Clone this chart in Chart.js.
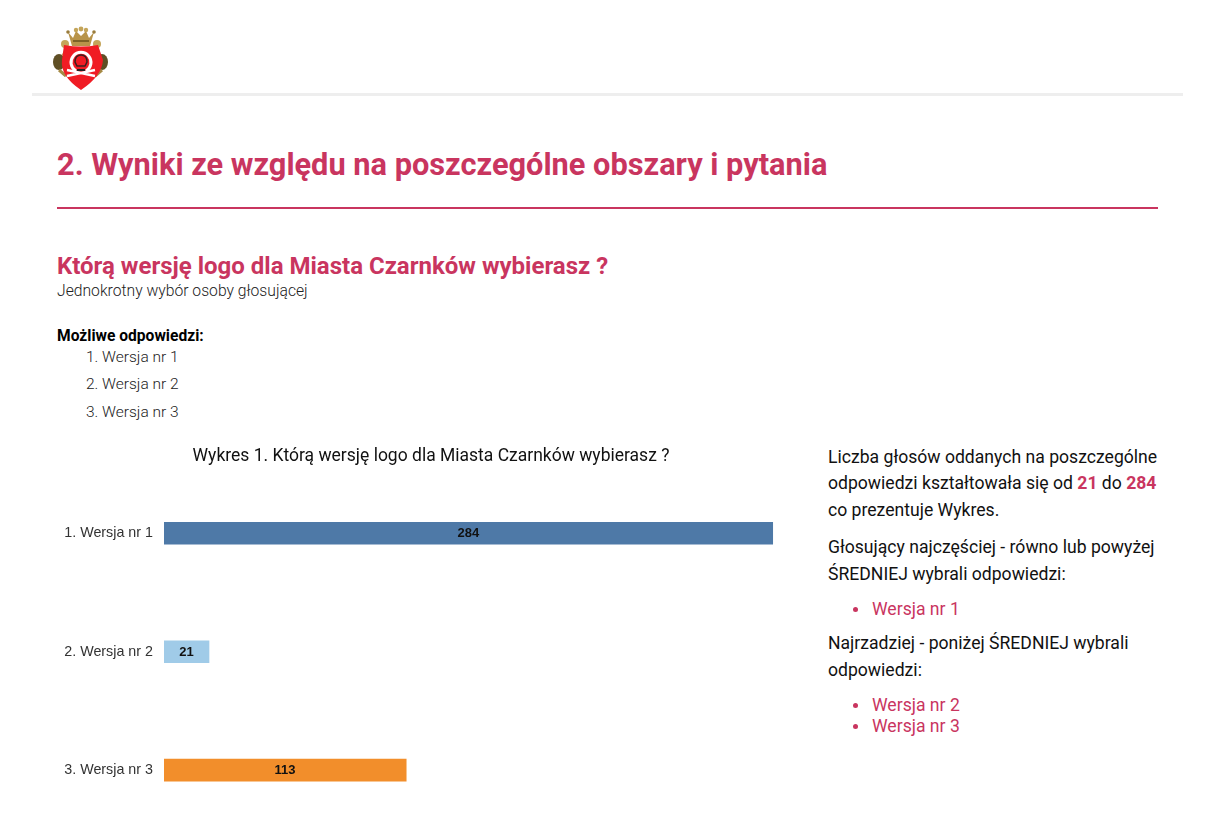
<!DOCTYPE html>
<html lang="pl">
<head>
<meta charset="utf-8">
<title>Wykres 1</title>
<script src="https://cdn.jsdelivr.net/npm/chart.js@4"></script>
<style>
    html, body { margin: 0; padding: 0; background: #fff; }
    body { position: relative; width: 1220px; height: 820px; overflow: hidden; font-family: Roboto, sans-serif; color: #111; }
    .t { position: absolute; white-space: nowrap; }
    .pink { color: #c9355f; }
    .rule { position: absolute; }
    #chartBox { position: absolute; left: 40px; top: 440px; width: 782px; height: 409px; }
    .side { font-size: 17.6px; line-height: 27px; }
    .opt { font-size: 15.5px; font-weight: 300; color: #222; }
    .dot { position: absolute; width: 5px; height: 5px; border-radius: 50%; background: #c9355f; }
</style>
</head>
<body>
<svg class="t" style="left:52px;top:26px" width="58" height="66" viewBox="0 0 58 66">
    <ellipse cx="7" cy="36" rx="6" ry="8" fill="#5f4f25"/>
    <ellipse cx="50" cy="36" rx="6" ry="8" fill="#5f4f25"/>
    <path d="M7 44 L14 50 M50 44 L43 50" stroke="#a58a45" stroke-width="3"/>
    <circle cx="13" cy="18" r="4" fill="#c4a55a"/>
    <circle cx="45" cy="18" r="4" fill="#c4a55a"/>
    <path d="M13 26 L11 30 M45 26 L47 30" stroke="#c4a55a" stroke-width="3"/>
    <path d="M16 6 L21 12 L24 5 L29 10 L34 5 L37 12 L42 6 L38 20 H20 Z" fill="#b8944a"/>
    <circle cx="16" cy="6" r="1.8" fill="#9a7c3c"/>
    <circle cx="24" cy="4" r="2.2" fill="#c4a55a"/>
    <circle cx="29" cy="3" r="2.4" fill="#c4a55a"/>
    <circle cx="34" cy="4" r="2.2" fill="#c4a55a"/>
    <circle cx="42" cy="6" r="1.8" fill="#9a7c3c"/>
    <path d="M21 15 H37" stroke="#7d6227" stroke-width="2"/>
    <path d="M12 19 Q29 22 46 19 L51 34 Q50 50 29 64 Q8 50 10 34 Z" fill="#f01c24"/>
    <path d="M24 45 A10 10 0 1 1 34 45" fill="none" stroke="#fff" stroke-width="3"/>
    <path d="M23 36 Q23 29 29 29 Q35 29 35 36 L33 40 H25 Z" fill="#f01c24" stroke="#3a2020" stroke-width="1.5"/>
    <path d="M15 50 L43 44 M15 44 L43 50" stroke="#fff" stroke-width="2.5"/>
    <path d="M25 44 H33" stroke="#222" stroke-width="2"/>
</svg>
<div class="rule" style="left:32px;top:93px;width:1151px;height:3px;background:#eeeeee"></div>

<div class="t pink" style="left:57px;top:147px;font-size:30.75px;font-weight:700;line-height:36px">2. Wyniki ze względu na poszczególne obszary i pytania</div>
<div class="rule" style="left:57px;top:207px;width:1101px;height:2px;background:#c9355f"></div>

<div class="t pink" style="left:57px;top:251px;font-size:24px;font-weight:700;line-height:30px">Którą wersję logo dla Miasta Czarnków wybierasz ?</div>
<div class="t" style="left:57px;top:281px;font-size:15.7px;font-weight:300;line-height:20px;color:#222">Jednokrotny wybór osoby głosującej</div>

<div class="t" style="left:57px;top:326px;font-size:15.6px;font-weight:700;line-height:20px;color:#000">Możliwe odpowiedzi:</div>
<div class="t opt" style="left:86px;top:347px;line-height:20px">1. Wersja nr 1</div>
<div class="t opt" style="left:86px;top:374px;line-height:20px">2. Wersja nr 2</div>
<div class="t opt" style="left:86px;top:402px;line-height:20px">3. Wersja nr 3</div>

<div id="chartBox"><canvas id="wykresChart"></canvas></div>

<div class="t side" style="left:828px;top:444px">Liczba głosów oddanych na poszczególne</div>
<div class="t side" style="left:828px;top:470px">odpowiedzi kształtowała się od <b class="pink">21</b> do <b class="pink">284</b></div>
<div class="t side" style="left:828px;top:497px">co prezentuje Wykres.</div>
<div class="t side" style="left:828px;top:534px">Głosujący najczęściej - równo lub powyżej</div>
<div class="t side" style="left:828px;top:561px">ŚREDNIEJ wybrali odpowiedzi:</div>
<div class="dot" style="left:853px;top:607px"></div>
<div class="t side pink" style="left:872px;top:596px">Wersja nr 1</div>
<div class="t side" style="left:828px;top:630px">Najrzadziej - poniżej ŚREDNIEJ wybrali</div>
<div class="t side" style="left:828px;top:657px">odpowiedzi:</div>
<div class="dot" style="left:853px;top:703px"></div>
<div class="t side pink" style="left:872px;top:692px">Wersja nr 2</div>
<div class="dot" style="left:853px;top:724px"></div>
<div class="t side pink" style="left:872px;top:713px">Wersja nr 3</div>

<script>
const categories = ['1. Wersja nr 1', '2. Wersja nr 2', '3. Wersja nr 3'];
const votes = [284, 21, 113];
const barColors = ['#4e79a7', '#a0cbe8', '#f28e2b'];
const chartTitle = 'Wykres 1. Którą wersję logo dla Miasta Czarnków wybierasz ?';
const axisMax = 307;

// wartosci na srodku slupkow
const barValueLabels = {
    id: 'barValueLabels',
    afterDatasetsDraw(chart) {
        const ctx = chart.ctx;
        const meta = chart.getDatasetMeta(0);
        ctx.save();
        ctx.font = 'bold 13px "Liberation Sans"';
        ctx.fillStyle = '#111';
        ctx.textAlign = 'center';
        ctx.textBaseline = 'middle';
        meta.data.forEach((bar, i) => {
            ctx.fillText(votes[i], (bar.base + bar.x) / 2, bar.y + 0.5);
        });
        ctx.restore();
    }
};

new Chart(document.getElementById('wykresChart'), {
    type: 'bar',
    data: {
        labels: categories,
        datasets: [{
            data: votes,
            backgroundColor: barColors,
            barThickness: 22
        }]
    },
    options: {
        indexAxis: 'y',
        responsive: true,
        maintainAspectRatio: false,
        animation: false,
        layout: { padding: { bottom: 3, top: 6 } },
        plugins: {
            legend: { display: false },
            tooltip: { enabled: false },
            title: {
                display: true,
                text: chartTitle,
                color: '#111',
                font: { family: 'Roboto', size: 17.5, weight: 'normal' },
                padding: { top: 0, bottom: 7 }
            }
        },
        scales: {
            x: { display: false, min: 0, max: axisMax },
            y: {
                afterFit: scale => { scale.width = 124; },
                grid: { display: false, drawTicks: false },
                border: { display: false },
                ticks: {
                    padding: 11,
                    color: '#333',
                    font: { family: '"Liberation Sans"', size: 14.3 }
                }
            }
        }
    },
    plugins: [barValueLabels]
});
</script>
</body>
</html>
